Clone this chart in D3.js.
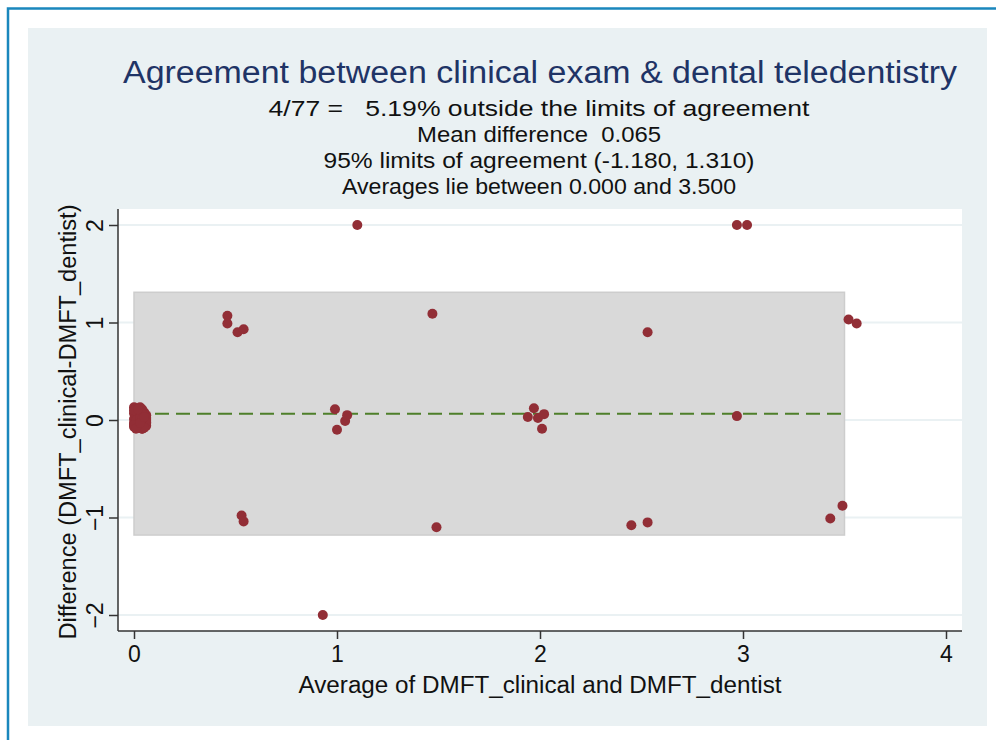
<!DOCTYPE html>
<html>
<head>
<meta charset="utf-8">
<script src="https://cdn.jsdelivr.net/npm/d3@7"></script>
<style>
  body { margin: 0; background: #fff; }
  svg { display: block; font-family: "Liberation Sans", Arial, sans-serif; }
  text { white-space: pre; }
</style>
</head>
<body>
<svg width="996" height="740"></svg>
<script>
// averages (x) and differences (y)
var avgOutside = [1.10, 2.97, 3.02, 0.46, 0.46, 0.51, 0.54, 1.47, 2.53, 3.52, 3.56,
    0.99, 1.04, 1.00, 1.05, 1.94, 1.97, 1.99, 2.02, 2.01, 2.97,
    0.53, 0.54, 1.49, 2.45, 2.53, 3.43, 3.49, 0.93];
var diffOutside = [2.00, 2.00, 2.00, 1.07, 0.99, 0.90, 0.93, 1.09, 0.90, 1.03, 0.99,
    0.11, -0.01, -0.10, 0.05, 0.03, 0.12, 0.02, 0.06, -0.09, 0.04,
    -0.98, -1.04, -1.10, -1.08, -1.05, -1.01, -0.88, -2.00];
// the jittered pile at (0, 0)
var avgZero = [0.00, 0.01, 0.02, 0.03, 0.04, 0.05, 0.06, 0.00, 0.01, 0.02, 0.03, 0.04,
    0.05, 0.06, 0.00, 0.02, 0.04, 0.06, 0.01, 0.03, 0.05, 0.00, 0.02, 0.04,
    0.06, 0.01, 0.03, 0.05, 0.00, 0.02, 0.04, 0.06, 0.01, 0.03, 0.05, 0.00,
    0.02, 0.04, 0.06, 0.01, 0.03, 0.05, 0.00, 0.02, 0.04, 0.01, 0.03, 0.05];
var diffZero = [0.13, 0.12, 0.10, 0.13, 0.11, 0.08, 0.05, 0.07, 0.05, 0.03, 0.06, 0.04,
    0.02, 0.00, 0.01, -0.01, -0.02, -0.03, -0.04, -0.05, -0.06, -0.07, -0.08, -0.09,
    -0.06, 0.09, 0.08, 0.06, -0.03, 0.04, 0.07, 0.02, -0.02, -0.08, -0.04, 0.10,
    -0.06, -0.09, -0.02, 0.00, 0.02, -0.08, -0.05, 0.11, 0.01, -0.09, -0.03, 0.03];

var meanDiff = 0.065;
var loaLower = -1.180, loaUpper = 1.310;
var avgMin = 0.000, avgMax = 3.500;

var xTicks = [0, 1, 2, 3, 4];
var yTicks = [-2, -1, 0, 1, 2];

var titleText = 'Agreement between clinical exam & dental teledentistry';
var subtitleLines = [
    '4/77 =   5.19% outside the limits of agreement',
    'Mean difference  0.065',
    '95% limits of agreement (-1.180, 1.310)',
    'Averages lie between 0.000 and 3.500'
];
var subtitleWidths = [541, 244, 431, 394];
var xLabel = 'Average of DMFT_clinical and DMFT_dentist';
var yLabel = 'Difference (DMFT_clinical-DMFT_dentist)';

var svg = d3.select('svg');

// outer frame
svg.append('rect').attr('x', 28).attr('y', 28).attr('width', 959).attr('height', 698)
    .attr('fill', '#eaf1f3');
svg.append('path').attr('d', 'M8,740 V8.5 H996')
    .attr('fill', 'none').attr('stroke', '#1a87bd').attr('stroke-width', 2.5);

var plot = {l: 118, r: 962, t: 209, b: 631};

var x = d3.scaleLinear().domain([0, 4]).range([134, 946]);
var y = d3.scaleLinear().domain([-2, 2]).range([615, 225]);

svg.append('rect')
    .attr('x', plot.l).attr('y', plot.t)
    .attr('width', plot.r - plot.l).attr('height', plot.b - plot.t)
    .attr('fill', '#fff');

// gridlines
svg.selectAll('.grid').data(yTicks).enter().append('line')
    .attr('class', 'grid')
    .attr('x1', plot.l).attr('x2', plot.r)
    .attr('y1', d => y(d)).attr('y2', d => y(d))
    .attr('stroke', '#eaf1f3').attr('stroke-width', 2);

// limits of agreement box
svg.append('rect')
    .attr('x', x(avgMin)).attr('y', y(loaUpper))
    .attr('width', x(avgMax) - x(avgMin)).attr('height', y(loaLower) - y(loaUpper))
    .attr('fill', '#d9d9d9').attr('stroke', '#cdcdcd').attr('stroke-width', 1.5);

// mean difference
svg.append('line')
    .attr('x1', x(avgMin)).attr('x2', x(avgMax))
    .attr('y1', y(meanDiff)).attr('y2', y(meanDiff))
    .attr('stroke', '#4e7f2a').attr('stroke-width', 2)
    .attr('stroke-dasharray', '14,7');

var points = avgOutside.map((a, i) => ({a: a, d: diffOutside[i]}))
    .concat(avgZero.map((a, i) => ({a: a, d: diffZero[i]})));

svg.selectAll('.pt').data(points).enter().append('circle')
    .attr('class', 'pt')
    .attr('cx', d => x(d.a)).attr('cy', d => y(d.d))
    .attr('r', 5)
    .attr('fill', '#922e36');

// axes
var xAxis = d3.axisBottom(x).tickValues(xTicks).tickSize(8).tickPadding(7).tickFormat(d3.format('d'));
var gx = svg.append('g').attr('transform', `translate(0,${plot.b})`).call(xAxis);
gx.select('.domain').attr('d', `M${plot.l},0H${plot.r}`);

var yAxis = d3.axisLeft(y).tickValues(yTicks).tickSize(9).tickFormat(d3.format('d'));
var gy = svg.append('g').attr('transform', `translate(${plot.l},0)`).call(yAxis);
gy.select('.domain').attr('d', `M0,${plot.t}V${plot.b}`);
gy.selectAll('.tick text')
    .attr('x', null).attr('dy', null)
    .attr('text-anchor', 'middle')
    .attr('transform', 'translate(-15,0) rotate(-90)');

svg.selectAll('.domain, .tick line').attr('stroke', '#333').attr('stroke-width', 1.5);
svg.selectAll('.tick text').attr('fill', '#111').style('font-size', '23px')
    .style('font-family', '"Liberation Sans", Arial, sans-serif');

// titles
svg.append('text').attr('x', 540).attr('y', 83).attr('text-anchor', 'middle')
    .attr('fill', '#1f3466').style('font-size', '31px')
    .attr('textLength', 834).attr('lengthAdjust', 'spacingAndGlyphs')
    .text(titleText);

svg.selectAll('.sub').data(subtitleLines).enter().append('text')
    .attr('class', 'sub')
    .attr('x', 539).attr('y', (d, i) => 116 + i * 26)
    .attr('text-anchor', 'middle').attr('fill', '#111')
    .attr('textLength', (d, i) => subtitleWidths[i]).attr('lengthAdjust', 'spacingAndGlyphs')
    .style('font-size', '22px').text(d => d);

svg.append('text').attr('x', 540).attr('y', 693).attr('text-anchor', 'middle')
    .attr('fill', '#111').style('font-size', '23px')
    .attr('textLength', 483).attr('lengthAdjust', 'spacingAndGlyphs')
    .text(xLabel);

svg.append('text').attr('transform', 'translate(76,422) rotate(-90)')
    .attr('text-anchor', 'middle').attr('fill', '#111')
    .style('font-size', '23px')
    .attr('textLength', 435).attr('lengthAdjust', 'spacingAndGlyphs')
    .text(yLabel);
</script>
</body>
</html>
